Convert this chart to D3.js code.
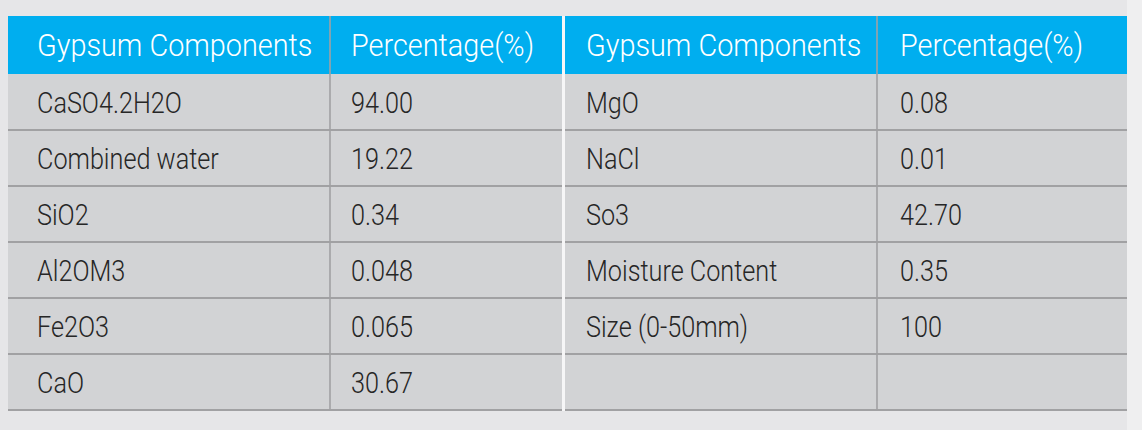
<!DOCTYPE html>
<html>
<head>
<meta charset="utf-8">
<script src="https://cdn.jsdelivr.net/npm/d3@7"></script>
<style>
  html, body { margin: 0; padding: 0; background: #e6e6e8; }
  svg { display: block; }
</style>
</head>
<body>
<div id="table"></div>
<script>
// Table data
var headers = ["Gypsum Components", "Percentage(%)", "Gypsum Components", "Percentage(%)"];
var leftComponents = ["CaSO4.2H2O", "Combined water", "SiO2", "Al2OM3", "Fe2O3", "CaO"];
var leftValues = ["94.00", "19.22", "0.34", "0.048", "0.065", "30.67"];
var rightComponents = ["MgO", "NaCl", "So3", "Moisture Content", "Size (0-50mm)", ""];
var rightValues = ["0.08", "0.01", "42.70", "0.35", "100", ""];

var width = 1142, height = 430;

// layout
var tableLeft = 8, tableRight = 1127;
var headTop = 16, headBottom = 74, tableBottom = 410;
var colEdges = [tableLeft, 331, 565, 878, tableRight];
var colPad = [29, 20, 21, 22];
var squeeze = 0.87; // condensed look

var headBlue = "#00aeef", cellGray = "#d2d3d5", lineGray = "#a1a1a3", textDark = "#262626";

var svg = d3.select("#table")
    .append("svg")
    .attr("width", width)
    .attr("height", height);

// lighter strip on the right edge
svg.append("rect")
    .attr("x", tableRight).attr("y", 0)
    .attr("width", width - tableRight).attr("height", height)
    .attr("fill", "#efeff0");

// rows
var rowIdx = d3.range(leftComponents.length);
var y = d3.scaleBand()
    .domain(rowIdx)
    .range([headBottom, tableBottom])
    .paddingInner(0);

var x = d3.scaleOrdinal()
    .domain([0, 1, 2, 3])
    .range(colEdges.slice(0, 4));

// header background
svg.append("rect")
    .attr("x", tableLeft).attr("y", headTop)
    .attr("width", tableRight - tableLeft).attr("height", headBottom - headTop)
    .attr("fill", headBlue);

// body background
svg.append("rect")
    .attr("x", tableLeft).attr("y", headBottom)
    .attr("width", tableRight - tableLeft).attr("height", tableBottom - headBottom)
    .attr("fill", cellGray);

// horizontal lines under each row
svg.selectAll(".hline")
    .data(rowIdx)
    .enter()
    .append("line")
    .attr("class", "hline")
    .attr("x1", tableLeft).attr("x2", tableRight)
    .attr("y1", function(d) { return y(d) + y.bandwidth(); })
    .attr("y2", function(d) { return y(d) + y.bandwidth(); })
    .attr("stroke", lineGray)
    .attr("stroke-width", 2);

// column dividers
[1, 3].forEach(function(c) {
    svg.append("line")
        .attr("x1", x(c) - 1).attr("x2", x(c) - 1)
        .attr("y1", headTop).attr("y2", tableBottom)
        .attr("stroke", lineGray)
        .attr("stroke-width", 1.6);
});

// white gap between the two halves
svg.append("rect")
    .attr("x", x(2) - 3).attr("y", headTop)
    .attr("width", 3).attr("height", tableBottom - headTop + 1)
    .attr("fill", "#f6f6f7");

// header text
svg.selectAll(".head")
    .data(headers)
    .enter()
    .append("text")
    .attr("class", "head")
    .attr("transform", function(d, i) {
        return "translate(" + (x(i) + colPad[i]) + "," + (headTop + 40) + ") scale(0.93,1)";
    })
    .style("font-family", "Roboto, 'Liberation Sans', sans-serif")
    .style("font-size", "31px")
    .style("font-weight", 300)
    .attr("fill", "#ffffff")
    .text(function(d) { return d; });

// body cells
var cells = [];
rowIdx.forEach(function(r) {
    cells.push({ row: r, col: 0, text: leftComponents[r] });
    cells.push({ row: r, col: 1, text: leftValues[r] });
    cells.push({ row: r, col: 2, text: rightComponents[r] });
    cells.push({ row: r, col: 3, text: rightValues[r] });
});

svg.selectAll(".cell")
    .data(cells)
    .enter()
    .append("text")
    .attr("class", "cell")
    .attr("transform", function(d) {
        return "translate(" + (x(d.col) + colPad[d.col]) + "," + (y(d.row) + 39) + ") scale(" + squeeze + ",1)";
    })
    .style("font-family", "Roboto, 'Liberation Sans', sans-serif")
    .style("font-size", "29px")
    .style("font-weight", 300)
    .attr("fill", textDark)
    .text(function(d) { return d.text; });
</script>
</body>
</html>
